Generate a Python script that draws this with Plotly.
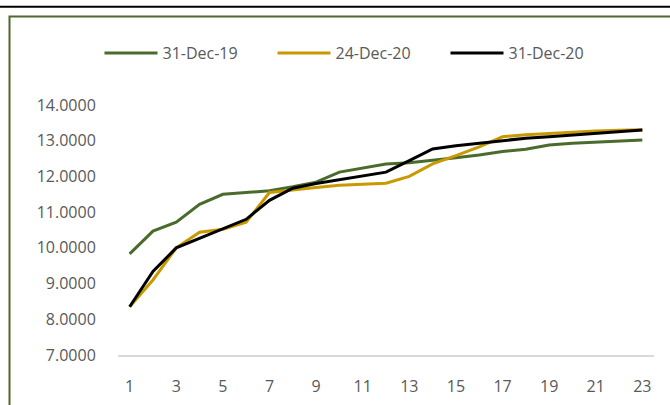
import plotly.graph_objects as go

days = list(range(1, 24))
dec19 = [9.83, 10.47, 10.72, 11.22, 11.50, 11.55, 11.60, 11.71, 11.84, 12.12, 12.23, 12.35,
         12.38, 12.44, 12.52, 12.60, 12.70, 12.76, 12.88, 12.93, 12.96, 12.99, 13.02]
dec24_20 = [8.35, 9.10, 10.00, 10.44, 10.52, 10.72, 11.55, 11.63, 11.69, 11.75, 11.78, 11.81,
            12.00, 12.35, 12.58, 12.83, 13.11, 13.17, 13.20, 13.24, 13.27, 13.29, 13.31]
dec31_20 = [8.35, 9.34, 10.00, 10.26, 10.53, 10.80, 11.33, 11.67, 11.80, 11.91, 12.01, 12.12,
            12.44, 12.77, 12.86, 12.93, 13.00, 13.07, 13.11, 13.16, 13.20, 13.25, 13.30]
names = ["31-Dec-19", "24-Dec-20", "31-Dec-20"]
colors = ["#4A6B2C", "#C99A00", "#000000"]
x_ticks = list(range(1, 24, 2))
y_ticks = [7, 8, 9, 10, 11, 12, 13, 14]

W, H = 670, 405
L, R, T, B = 118, 16, 105, 50
pw, ph = W - L - R, H - T - B

def px(x):
    return (x - L) / pw

def py(y):
    return (H - B - y) / ph

FONT = "Open Sans"
GREY = "#595959"

fig = go.Figure()
for name, vals, col in zip(names, [dec19, dec24_20, dec31_20], colors):
    fig.add_trace(go.Scatter(x=days, y=vals, name=name, mode="lines",
                             line=dict(color=col, width=3)))

fig.update_layout(
    width=W, height=H,
    margin=dict(l=L, r=R, t=T, b=B, autoexpand=False),
    paper_bgcolor="white", plot_bgcolor="white",
    font=dict(family=FONT, color=GREY, size=16),
    showlegend=True,
    legend=dict(orientation="h", xref="container", yref="container",
                x=359 / W, xanchor="center", y=1 - 53 / H, yanchor="middle",
                font=dict(size=16, color=GREY, family=FONT),
                itemwidth=53, entrywidth=105, entrywidthmode="pixels",
                bgcolor="rgba(0,0,0,0)"),
    xaxis=dict(range=[0.5, 23.5], tickvals=x_ticks, showgrid=False, zeroline=False,
               showline=True, linecolor="#D9D9D9", linewidth=1.5,
               ticks="outside", ticklen=16, tickcolor="rgba(0,0,0,0)",
               tickfont=dict(size=16, color=GREY, family=FONT)),
    yaxis=dict(range=[7, 14], tickvals=y_ticks, tickformat=".4f", showgrid=False,
               zeroline=False, showline=False,
               ticks="outside", ticklen=18, tickcolor="rgba(0,0,0,0)",
               tickfont=dict(size=16, color=GREY, family=FONT)),
    shapes=[
        dict(type="line", xref="paper", yref="paper", x0=px(-5), x1=px(W + 5),
             y0=py(6.7), y1=py(6.7), line=dict(color="black", width=2)),
        dict(type="rect", xref="paper", yref="paper", x0=px(9.5), x1=px(W + 20),
             y0=py(H + 20), y1=py(16.5), line=dict(color="#4A6B2C", width=2),
             fillcolor="rgba(0,0,0,0)", layer="below"),
    ],
)

fig.write_html("out.html")
